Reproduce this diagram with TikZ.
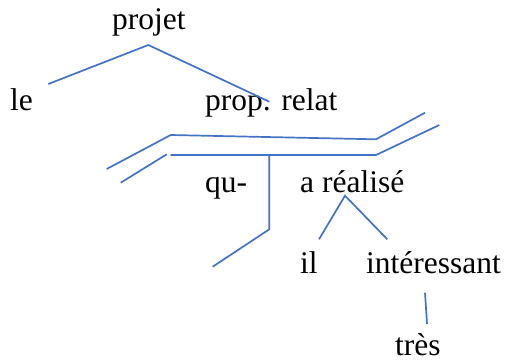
\documentclass[tikz,border=0pt]{standalone}
\usepackage{fontspec}
\setmainfont{Liberation Serif}
\begin{document}
\begin{tikzpicture}[x=1bp,y=-1bp,
  word/.style={inner sep=0pt,anchor=base west,font=\fontsize{31.5bp}{36bp}\selectfont},
  branch/.style={draw=lineblue,line width=1.7bp,line join=miter}]
\definecolor{lineblue}{HTML}{4472C4}
\useasboundingbox (0,0) rectangle (506,363);

% words
\node[word] (projet) at (112,29.5) {projet};
\node[word] (le) at (10,110) {le};
\node[word] (relat) at (205,110) {prop. relat};
\node[word] (qu) at (205,192) {qu-};
\node[word] (realise) at (300,192) {a réalisé};
\node[word] (il) at (300,273.5) {il};
\node[word] (inter) at (366,273.5) {intéressant};
\node[word] (tres) at (395,355.5) {très};

% branch points
\coordinate (pTop) at (148.3,45);
\coordinate (pLeft) at (48.3,84);
\coordinate (pRight) at (269.3,101.7);

\coordinate (u1) at (106.7,169);
\coordinate (u2) at (170.7,135);
\coordinate (u3) at (376,139.3);
\coordinate (u4) at (425,112.7);

\coordinate (l1) at (120.7,182.7);
\coordinate (l2) at (166.7,154.3);
\coordinate (m1) at (170.7,155);
\coordinate (m2) at (376,155);
\coordinate (m3) at (439.3,125);

\coordinate (v1) at (269.3,155);
\coordinate (v2) at (269.3,229.3);
\coordinate (v3) at (212.7,266.7);

\coordinate (rTop) at (345,195.7);
\coordinate (rLeft) at (319,239.3);
\coordinate (rRight) at (387.3,239.3);

\coordinate (t1) at (425,292.7);
\coordinate (t2) at (427,324);

% connectors
\draw[branch] (pLeft) -- (pTop) -- (pRight);
\draw[branch] (u1) -- (u2) -- (u3) -- (u4);
\draw[branch] (l1) -- (l2);
\draw[branch] (m1) -- (m2) -- (m3);
\draw[branch] (v1) -- (v2) -- (v3);
\draw[branch] (rLeft) -- (rTop) -- (rRight);
\draw[branch] (t1) -- (t2);
\end{tikzpicture}
\end{document}
